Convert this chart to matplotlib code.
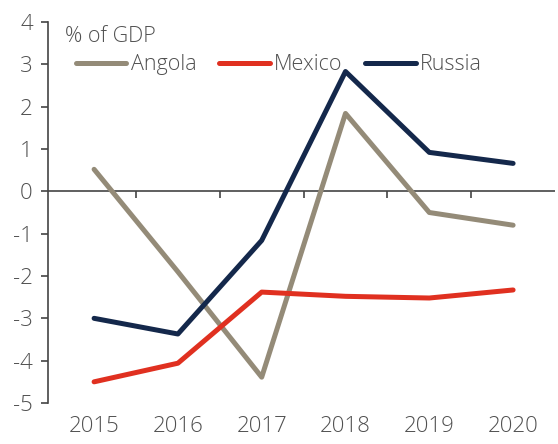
from matplotlib import pyplot as plt

years = ['2015', '2016', '2017', '2018', '2019', '2020']
angola = [0.52, -1.9, -4.39, 1.84, -0.5, -0.8]
mexico = [-4.5, -4.06, -2.38, -2.48, -2.52, -2.33]
russia = [-3.0, -3.37, -1.16, 2.83, 0.92, 0.66]

plt.rcParams['font.family'] = ['Open Sans', 'DejaVu Sans']
plt.rcParams['font.weight'] = 'light'
text_col = '#505050'
axis_col = '#444444'

fig = plt.figure(figsize=[5.58, 4.44], dpi=100)
ax = fig.add_axes([48 / 558, 41 / 444, 507 / 558, 381 / 444])

x = range(len(years))
ax.plot(x, angola, color='#948B78', lw=3.6, label='Angola', solid_capstyle='round')
ax.plot(x, mexico, color='#E03020', lw=3.6, label='Mexico', solid_capstyle='round')
ax.plot(x, russia, color='#14284B', lw=3.6, label='Russia', solid_capstyle='round')

ax.set_xlim(-0.55, len(years) - 0.5)
ax.set_ylim(-5, 4)
ax.set_yticks(range(-5, 5))
ax.set_xticks(list(x))
ax.set_xticklabels(years)

# zero line with boundary ticks
ax.axhline(0, color=axis_col, lw=1.2, zorder=1)
ax.vlines([i + 0.5 for i in range(len(years) - 1)], -0.15, 0, color=axis_col, lw=1.2, zorder=1)

for s in ['top', 'right', 'bottom']:
    ax.spines[s].set_visible(False)
ax.spines['left'].set_color(axis_col)
ax.spines['left'].set_linewidth(1.2)
ax.tick_params(axis='y', length=5, width=1.2, color=axis_col, labelsize=16,
               labelcolor=text_col, pad=6)
ax.tick_params(axis='x', length=0, labelsize=16, labelcolor=text_col, pad=9)
ax.set_yticklabels([str(v) for v in range(-5, 5)])

ax.text(0.034, 0.99, '% of GDP', transform=ax.transAxes, fontsize=15.5,
        color=text_col, va='top', ha='left')
leg = ax.legend(loc='upper left', bbox_to_anchor=(0.055, 0.915), ncol=3, frameon=False,
                fontsize=15.5, handlelength=2.35, handletextpad=0.2, columnspacing=1.05,
                borderaxespad=0, borderpad=0)
for t in leg.get_texts():
    t.set_color(text_col)

plt.savefig('out.png', dpi=100)
